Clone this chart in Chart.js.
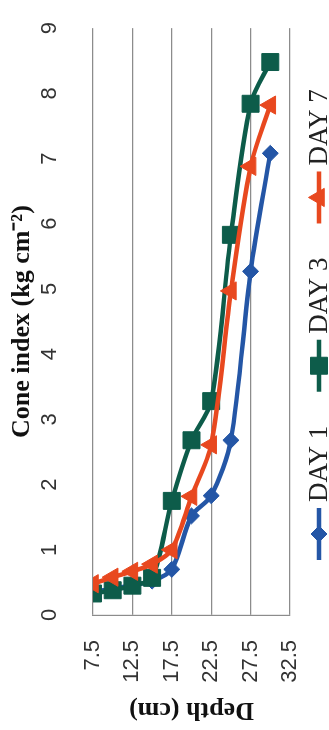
<!DOCTYPE html>
<html>
<head>
<meta charset="utf-8">
<script src="https://cdn.jsdelivr.net/npm/chart.js@4/dist/chart.umd.min.js"></script>
<style>
  html, body { margin: 0; padding: 0; background: #fff; overflow: hidden; }
  #wrap {
    position: absolute; left: 0; top: 0;
    width: 730px; height: 329px;
    transform-origin: 0 0;
    transform: translate(0px, 730px) rotate(-90deg);
    background: #fff;
  }
  canvas { display: block; }
</style>
</head>
<body>
<div id="wrap"><canvas id="c" width="730" height="329"></canvas></div>
<script>
// ---- data ----
const depthCm    = [7.5, 10, 12.5, 15, 17.5, 20, 22.5, 25, 27.5, 30];
const day1       = [0.36, 0.40, 0.46, 0.52, 0.70, 1.52, 1.83, 2.68, 5.27, 7.08];
const day3       = [0.33, 0.38, 0.45, 0.57, 1.75, 2.68, 3.28, 5.83, 7.84, 8.48];
const day7       = [0.48, 0.58, 0.67, 0.78, 1.00, 1.82, 2.61, 4.97, 6.88, 7.82];
const seriesNames = ['DAY 1', 'DAY 3', 'DAY 7'];
const depthTicks = [7.5, 12.5, 17.5, 22.5, 27.5, 32.5];
const coneTicks  = [0, 1, 2, 3, 4, 5, 6, 7, 8, 9];

const BLUE = '#2456a6', GREEN = '#0d5c4a', RED = '#e8481f';
const GRID = '#8c8c8c';

function pts(vals) { return vals.map((v, i) => ({ x: v, y: depthCm[i] })); }

function mk(label, vals, color, style, radius, order) {
  return {
    label, data: pts(vals), showLine: true, tension: 0.3,
    borderColor: color, backgroundColor: color, borderWidth: 4.5,
    pointStyle: style, pointRadius: radius, pointHoverRadius: radius,
    pointBackgroundColor: color, pointBorderColor: color, pointBorderWidth: 1,
    order
  };
}

function drawMarker(ctx, style, r, x, y, color) {
  ctx.fillStyle = color; ctx.strokeStyle = color; ctx.lineWidth = 1;
  ctx.beginPath();
  if (style === 'rect') {
    const s = Math.SQRT1_2 * r;
    ctx.rect(x - s, y - s, 2 * s, 2 * s);
  } else if (style === 'rectRot') {
    ctx.moveTo(x - r, y); ctx.lineTo(x, y - r); ctx.lineTo(x + r, y); ctx.lineTo(x, y + r); ctx.closePath();
  } else if (style === 'triangle') {
    let a = 0;
    for (let k = 0; k < 3; k++) {
      const px = x + Math.sin(a) * r, py = y - Math.cos(a) * r;
      if (k === 0) ctx.moveTo(px, py); else ctx.lineTo(px, py);
      a += 2 * Math.PI / 3;
    }
    ctx.closePath();
  }
  ctx.fill(); ctx.stroke();
}

const legendPlugin = {
  id: 'excelLegend',
  afterDraw(chart) {
    const ctx = chart.ctx;
    const dsets = chart.data.datasets;
    const y = 319;
    let x = 170;
    ctx.save();
    ctx.font = '27px "Liberation Serif", "Times New Roman", serif';
    ctx.textBaseline = 'middle';
    dsets.forEach(d => {
      ctx.strokeStyle = d.borderColor; ctx.lineWidth = d.borderWidth;
      ctx.beginPath(); ctx.moveTo(x, y); ctx.lineTo(x + 52, y); ctx.stroke();
      drawMarker(ctx, d.pointStyle, d.pointRadius, x + 26, y, d.borderColor);
      ctx.fillStyle = '#222';
      ctx.textAlign = 'left';
      ctx.fillText(d.label, x + 58, y + 1);
      x += 58 + ctx.measureText(d.label).width + 34;
    });
    ctx.restore();
  }
};

const bgPlugin = {
  id: 'bg',
  beforeDraw(chart) {
    const c = chart.ctx; c.save(); c.fillStyle = '#fff';
    c.fillRect(0, 0, chart.width, chart.height); c.restore();
  }
};

new Chart(document.getElementById('c'), {
  type: 'scatter',
  data: {
    datasets: [
      mk(seriesNames[0], day1, BLUE, 'rectRot', 8, 2),
      mk(seriesNames[1], day3, GREEN, 'rect', 12, 1),
      mk(seriesNames[2], day7, RED, 'triangle', 10.5, 0)
    ]
  },
  options: {
    responsive: false, animation: false, devicePixelRatio: 1,
    layout: { padding: { left: 0, top: 0, right: 12, bottom: 39 } },
    plugins: { legend: { display: false }, tooltip: { enabled: false } },
    scales: {
      x: {
        type: 'linear', position: 'top', min: 0, max: 9,
        afterBuildTicks: s => { s.ticks = coneTicks.map(v => ({ value: v })); },
        afterFit: s => { s.height = 93; },
        grid: { display: false },
        border: { display: false },
        ticks: { padding: 22, color: '#333', font: { family: '"Liberation Sans", Arial, sans-serif', size: 22 },
                 callback: v => String(v) },
        title: { display: true, text: 'Cone index (kg cm\u207B\u00B2)', color: '#111',
                 font: { family: '"Liberation Serif", "Times New Roman", serif', size: 26, weight: 'bold', lineHeight: 1 },
                 padding: { top: 9, bottom: 0 } }
      },
      y: {
        type: 'linear', reverse: true, min: 7.5, max: 32.5,
        afterBuildTicks: s => { s.ticks = depthTicks.map(v => ({ value: v })); },
        afterFit: s => { s.width = 115; },
        grid: { color: GRID, lineWidth: 1.2, drawTicks: false },
        border: { display: true, color: GRID, width: 1.2 },
        ticks: { padding: 25, color: '#333', font: { family: '"Liberation Sans", Arial, sans-serif', size: 22 },
                 callback: v => String(v) },
        title: { display: true, text: 'Depth (cm)', color: '#111',
                 font: { family: '"Liberation Serif", "Times New Roman", serif', size: 26, weight: 'bold', lineHeight: 1 },
                 padding: { top: 7, bottom: 0 } }
      }
    }
  },
  plugins: [bgPlugin, legendPlugin]
});
</script>
</body>
</html>
